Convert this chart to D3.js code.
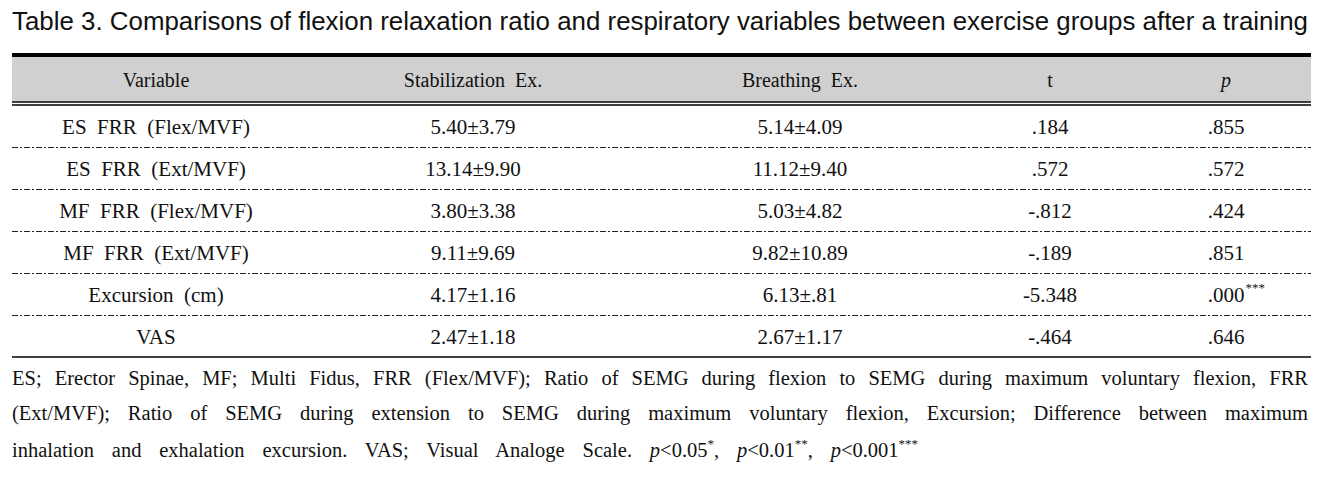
<!DOCTYPE html>
<html>
<head>
<meta charset="utf-8">
<script src="https://cdn.jsdelivr.net/npm/d3@7"></script>
<style>
  body { margin: 0; background: #fff; }
  text { white-space: pre; }
</style>
</head>
<body>
<div id="my_table"></div>
<script>
// table content
var title = "Table 3. Comparisons of flexion relaxation ratio and respiratory variables between exercise groups after a training";
var columns = ["Variable", "Stabilization  Ex.", "Breathing  Ex.", "t", "p"];
var variables = ["ES  FRR  (Flex/MVF)", "ES  FRR  (Ext/MVF)", "MF  FRR  (Flex/MVF)", "MF  FRR  (Ext/MVF)", "Excursion  (cm)", "VAS"];
var stabilization = ["5.40±3.79", "13.14±9.90", "3.80±3.38", "9.11±9.69", "4.17±1.16", "2.47±1.18"];
var breathing = ["5.14±4.09", "11.12±9.40", "5.03±4.82", "9.82±10.89", "6.13±.81", "2.67±1.17"];
var tValues = [".184", ".572", "-.812", "-.189", "-5.348", "-.464"];
var pValues = [".855", ".572", ".424", ".851", ".000", ".646"];
var pStars = ["", "", "", "", "***", ""];
var notes = [
  "ES; Erector Spinae, MF; Multi Fidus, FRR (Flex/MVF); Ratio of SEMG during flexion to SEMG during maximum voluntary flexion, FRR",
  "(Ext/MVF); Ratio of SEMG during extension to SEMG during maximum voluntary flexion, Excursion; Difference between maximum"
];

var width = 1323, height = 478;
var left = 12, right = 1311;

var svg = d3.select("#my_table")
  .append("svg")
    .attr("width", width)
    .attr("height", height);

// column positions (centres)
var x = d3.scaleOrdinal()
  .domain(columns)
  .range([156, 473, 800, 1050, 1226]);

// rows
var y = d3.scaleBand()
  .domain(variables)
  .range([105, 357]);

var serif = "'Liberation Serif', 'Times New Roman', serif";

// title, sized to span the table width
var titleText = svg.append("text")
  .attr("x", left)
  .attr("y", 30)
  .attr("font-family", "'Liberation Sans', Arial, sans-serif")
  .attr("font-size", 21)
  .attr("fill", "#111")
  .text(title);
var tw = titleText.node().getComputedTextLength();
titleText.attr("font-size", (21 * 1296 / tw).toFixed(2))
  .attr("textLength", 1296)
  .attr("lengthAdjust", "spacingAndGlyphs");

// header background + rules
svg.append("rect")
  .attr("x", left).attr("y", 57)
  .attr("width", right - left).attr("height", 44)
  .attr("fill", "#d0d0d0");
svg.append("line")
  .attr("x1", left).attr("x2", right)
  .attr("y1", 55).attr("y2", 55)
  .attr("stroke", "#000").attr("stroke-width", 4);
[102, 105].forEach(function(yy) {
  svg.append("line")
    .attr("x1", left).attr("x2", right)
    .attr("y1", yy).attr("y2", yy)
    .attr("stroke", "#000").attr("stroke-width", 1.3);
});

// header labels
svg.selectAll("headerText")
  .data(columns)
  .enter()
  .append("text")
    .attr("x", function(d) { return x(d); })
    .attr("y", 87)
    .attr("text-anchor", "middle")
    .attr("font-family", serif)
    .attr("font-size", 20)
    .attr("font-style", function(d) { return d == "p" ? "italic" : "normal"; })
    .attr("fill", "#111")
    .text(function(d) { return d; });

// dash-dot separators between rows
svg.selectAll("sepLine")
  .data(variables.slice(1))
  .enter()
  .append("line")
    .attr("x1", left).attr("x2", right)
    .attr("y1", function(d) { return y(d) + 0.5; })
    .attr("y2", function(d) { return y(d) + 0.5; })
    .attr("stroke", "#222")
    .attr("stroke-width", 1)
    .attr("stroke-dasharray", "6,2,2,2");

// bottom rule
svg.append("line")
  .attr("x1", left).attr("x2", right)
  .attr("y1", 357).attr("y2", 357)
  .attr("stroke", "#000").attr("stroke-width", 1.5);

// body cells
var rows = variables.map(function(v, i) {
  return [v, stabilization[i], breathing[i], tValues[i], pValues[i]];
});

rows.forEach(function(r, i) {
  var yy = y(variables[i]) + y.bandwidth() / 2 + 8;
  r.forEach(function(cell, j) {
    var t = svg.append("text")
      .attr("x", x(columns[j]))
      .attr("y", yy)
      .attr("text-anchor", "middle")
      .attr("font-family", serif)
      .attr("font-size", 21)
      .attr("fill", "#111")
      .text(cell);
    if (j == 4 && pStars[i]) {
      // stars hang above, keep number centred
      var w = t.node().getComputedTextLength();
      svg.append("text")
        .attr("x", x(columns[j]) + w / 2 + 1)
        .attr("y", yy - 10)
        .attr("font-family", serif)
        .attr("font-size", 13)
        .attr("fill", "#111")
        .text(pStars[i]);
    }
  });
});

// footnotes: first two lines justified to the table width
var noteY = [385, 420, 457];
var noteSize = 20.5;
function spread(t, target, gaps) {
  var natural = t.node().getComputedTextLength();
  t.attr("word-spacing", ((target - natural) / gaps).toFixed(2));
}
notes.forEach(function(line, i) {
  var t = svg.append("text")
    .attr("x", left)
    .attr("y", noteY[i])
    .attr("font-family", serif)
    .attr("font-size", noteSize)
    .attr("fill", "#111")
    .text(line);
  spread(t, 1296, line.split(" ").length - 1);
});

// last footnote line with italic p and superscript stars
var last = svg.append("text")
  .attr("x", left)
  .attr("y", noteY[2])
  .attr("font-family", serif)
  .attr("font-size", noteSize)
  .attr("fill", "#111");
last.append("tspan").text("inhalation and exhalation excursion. VAS; Visual Analoge Scale. ");
[["0.05", "*", ", "], ["0.01", "**", ", "], ["0.001", "***", ""]].forEach(function(s) {
  last.append("tspan").attr("font-style", "italic").text("p");
  last.append("tspan").text("<" + s[0]);
  last.append("tspan").attr("font-size", 13).attr("dy", -9).text(s[1]);
  last.append("tspan").attr("dy", 9).text(s[2]);
});
spread(last, 906, 10);
</script>
</body>
</html>
